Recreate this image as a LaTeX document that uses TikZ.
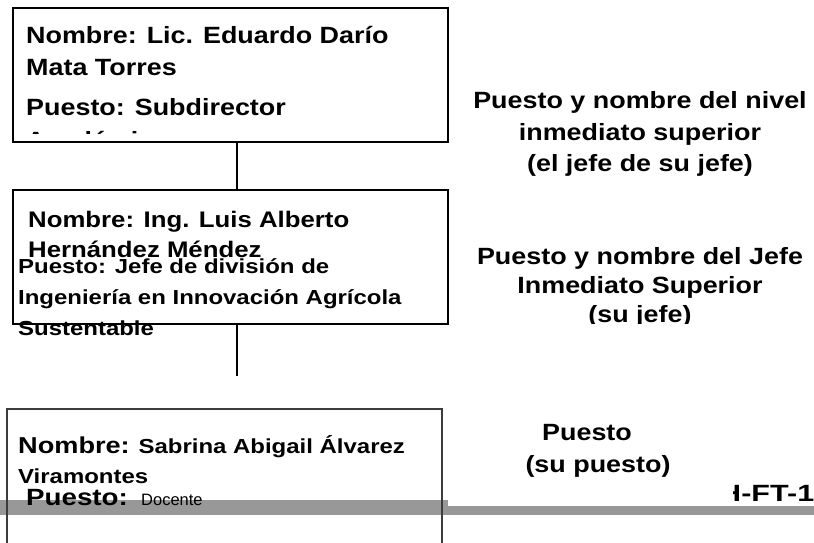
\documentclass[tikz,border=0pt]{standalone}
\usepackage{fontspec}
\usepackage{graphicx}
\setmainfont{Liberation Sans}
\definecolor{barGray}{RGB}{152,152,152}
\definecolor{thinBorder}{RGB}{60,60,60}
\newcommand{\wx}[1]{\scalebox{1.145}[1]{#1}}
\newcommand{\wxs}[1]{\scalebox{1.18}[1]{#1}}
\begin{document}
\begin{tikzpicture}[x=1pt,y=-1pt,
  box/.style={draw, line width=2pt, inner sep=0pt},
  thinbox/.style={draw=thinBorder, line width=1.2pt, inner sep=0pt},
  lbl/.style={inner sep=0pt, anchor=base west},
  ctr/.style={inner sep=0pt, anchor=base},
  bigtxt/.style={font=\fontsize{23.5}{27}\selectfont\bfseries},
  midtxt/.style={font=\fontsize{22.5}{26}\selectfont\bfseries},
  smalltxt/.style={font=\fontsize{20.3}{24}\selectfont\bfseries},
  plaintxt/.style={font=\fontsize{16.5}{20}\selectfont},
  conn/.style={line width=2pt}
]
\useasboundingbox (0,0) rectangle (814,542);
\clip (0,0) rectangle (814,542);

% gray bar
\fill[barGray] (0,499.5) rectangle (448,515);
\fill[barGray] (448,506) rectangle (814,515);

% boxes
\node[box, minimum width=435pt, minimum height=134pt] (b1) at (230.5,75) {};
\node[box, minimum width=435pt, minimum height=134pt] (b2) at (230.5,257) {};
\node[thinbox, minimum width=435pt, minimum height=151pt] (b3) at (224.5,484.5) {};

% connectors
\coordinate (k1) at (237,0);
\coordinate (e2) at (237,376);
\draw[conn] (b1.south -| k1) -- (b2.north -| k1);
\draw[conn] (b2.south -| e2) -- (e2);

% box 1 text
\begin{scope}
\clip (0,0) rectangle (814,133);
\node[lbl, bigtxt] (t1a) at (26,43) {\wx{Nombre: Lic. Eduardo Darío}};
\node[lbl, bigtxt] (t1b) at (26,75) {\wx{Mata Torres}};
\node[lbl, bigtxt] (t1c) at (26,115) {\wx{Puesto: Subdirector}};
\node[lbl, bigtxt] (t1d) at (26,148) {\wx{Académico}};
\end{scope}

% box 2 text
\node[lbl, midtxt] (t2a) at (28,227) {\wx{Nombre: Ing. Luis Alberto}};
\node[lbl, midtxt] (t2b) at (28,257) {\wx{Hernández Méndez}};
\node[lbl, smalltxt] (t2c) at (18,273) {\wxs{Puesto: Jefe de división de}};
\node[lbl, smalltxt] (t2d) at (18,304) {\wxs{Ingeniería en Innovación Agrícola}};
\node[lbl, smalltxt] (t2e) at (18,335) {\wxs{Sustentable}};

% box 3 text
\node[lbl, smalltxt] (t3a) at (18,453) {\wxs{{\fontsize{23}{26}\selectfont Nombre:} Sabrina Abigail Álvarez}};
\node[lbl, smalltxt] (t3b) at (18,483) {\wxs{Viramontes}};
\node[lbl, bigtxt] (t3c) at (26,505) {\wxs{Puesto:}};
\node[lbl, plaintxt] (t3d) at (141,505) {Docente};

% right-hand labels
\node[ctr, bigtxt] (r1a) at (640,108) {\wx{Puesto y nombre del nivel}};
\node[ctr, bigtxt] (r1b) at (640,140) {\wx{inmediato superior}};
\node[ctr, bigtxt] (r1c) at (640,171) {\wx{(el jefe de su jefe)}};

\node[ctr, bigtxt] (r2a) at (640,264) {\wx{Puesto y nombre del Jefe}};
\node[ctr, bigtxt] (r2b) at (640,293) {\wx{Inmediato Superior}};
\begin{scope}
\clip (440,300) rectangle (814,323);
\node[ctr, bigtxt] (r2c) at (640,322) {\wx{(su jefe)}};
\end{scope}

\node[ctr, bigtxt] (r3a) at (587,440) {\wx{Puesto}};
\node[ctr, bigtxt] (r3b) at (598,472) {\wx{(su puesto)}};

% clipped form code
\begin{scope}
\clip (733,470) rectangle (814,505);
\node[lbl, bigtxt] (code) at (719,501) {\scalebox{1.3}[1]{H-FT-1}};
\end{scope}
\end{tikzpicture}
\end{document}
